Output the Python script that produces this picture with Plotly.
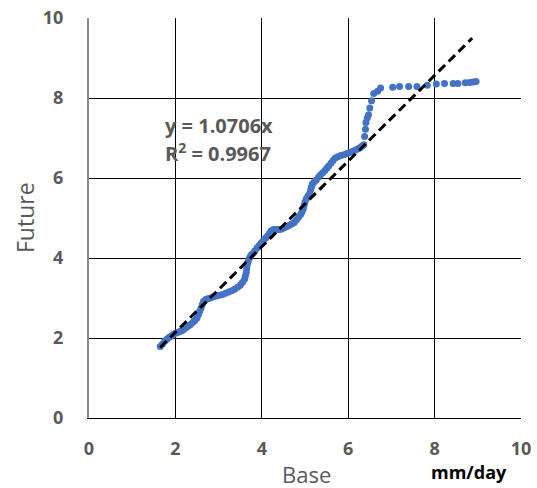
import plotly.graph_objects as go

# Daily values, Base vs Future (mm/day)
base = [1.65, 1.70, 1.75, 1.80, 1.85, 1.90, 1.95, 2.00, 2.05, 2.10, 2.15, 2.20, 2.25, 2.30,
        2.35, 2.40, 2.45, 2.50, 2.53, 2.56, 2.59, 2.62, 2.65, 2.70, 2.75, 2.81, 2.88, 2.95,
        3.02, 3.09, 3.16, 3.23, 3.30, 3.37, 3.44, 3.50, 3.55, 3.60, 3.62, 3.64, 3.65, 3.66,
        3.68, 3.70, 3.73, 3.76, 3.80, 3.84, 3.89, 3.94, 3.99, 4.04, 4.09, 4.14, 4.18, 4.22,
        4.27, 4.33, 4.39, 4.45, 4.51, 4.57, 4.63, 4.69, 4.75, 4.80, 4.85, 4.90, 4.93, 4.96,
        4.98, 5.00, 5.03, 5.07, 5.11, 5.13, 5.15, 5.17, 5.21, 5.26, 5.31, 5.36, 5.41, 5.46,
        5.51, 5.55, 5.60, 5.65, 5.70, 5.76, 5.83, 5.90, 5.97, 6.04, 6.11, 6.17, 6.23, 6.28,
        6.32, 6.36, 6.38, 6.40, 6.41, 6.44, 6.47, 6.50, 6.54, 6.59, 6.68, 6.75, 7.03, 7.19,
        7.40, 7.59, 7.83, 8.04, 8.23, 8.43, 8.54, 8.71, 8.81, 8.89, 8.96]
future = [1.79, 1.85, 1.92, 1.97, 2.01, 2.05, 2.09, 2.12, 2.14, 2.16, 2.18, 2.22, 2.26, 2.30,
          2.34, 2.39, 2.44, 2.50, 2.58, 2.66, 2.74, 2.83, 2.91, 2.96, 2.98, 3.00, 3.03, 3.05,
          3.07, 3.09, 3.12, 3.15, 3.18, 3.22, 3.27, 3.32, 3.39, 3.47, 3.55, 3.64, 3.73, 3.82,
          3.90, 3.97, 4.03, 4.08, 4.12, 4.18, 4.25, 4.31, 4.38, 4.44, 4.50, 4.56, 4.62, 4.68,
          4.71, 4.71, 4.71, 4.72, 4.75, 4.78, 4.81, 4.85, 4.89, 4.95, 5.02, 5.09, 5.15, 5.23,
          5.32, 5.40, 5.48, 5.55, 5.62, 5.70, 5.78, 5.85, 5.90, 5.95, 6.02, 6.08, 6.13, 6.19,
          6.25, 6.30, 6.37, 6.44, 6.50, 6.53, 6.56, 6.58, 6.61, 6.64, 6.67, 6.70, 6.73, 6.76,
          6.80, 6.83, 7.04, 7.22, 7.39, 7.50, 7.58, 7.75, 7.93, 8.11, 8.17, 8.25, 8.27, 8.29,
          8.29, 8.29, 8.32, 8.35, 8.36, 8.36, 8.36, 8.38, 8.39, 8.40, 8.41]

# Linear trend through the origin
slope = 1.0706
r_squared = 0.9967
trend_x = [1.65, 8.87]
trend_y = [slope * v for v in trend_x]

tick_vals = [0, 2, 4, 6, 8, 10]
tick_text = ["0", "2", "4", "6", "8", "10"]

GRAY = "#595959"
FONT = "Open Sans"

# Page and plot-area geometry in pixels
W, H = 537, 488
L, R, T, B = 89, 16, 18, 70
pw, ph = W - L - R, H - T - B


def paper_x(px):
    return (px - L) / pw


def paper_y(py):
    return (H - B - py) / ph


fig = go.Figure()
fig.add_trace(go.Scatter(
    x=base, y=future, mode="markers",
    marker=dict(color="#4472C4", size=7, line=dict(width=0)),
    showlegend=False, hoverinfo="skip"))
fig.add_trace(go.Scatter(
    x=trend_x, y=trend_y, mode="lines",
    line=dict(color="black", width=3, dash="9px,5px"),
    showlegend=False, hoverinfo="skip"))

axis_common = dict(
    range=[0, 10], tickvals=tick_vals, ticktext=tick_text,
    showgrid=True, gridcolor="black", gridwidth=1, zeroline=False,
    ticks="", tickfont=dict(family=FONT, size=18, color=GRAY, weight="bold"),
    fixedrange=True, automargin=False,
)

fig.update_layout(
    width=W, height=H,
    margin=dict(l=L, r=R, t=T, b=B),
    paper_bgcolor="white", plot_bgcolor="white",
    xaxis=dict(**axis_common, showline=True, linecolor="black", linewidth=1,
               ticklabelstandoff=14),
    yaxis=dict(**axis_common, showline=True, linecolor="#8c8c8c", linewidth=2,
               ticklabelstandoff=20),
    annotations=[
        dict(text=f"y = {slope}x", x=1.72, y=7.31, xref="x", yref="y",
             xanchor="left", yanchor="middle", showarrow=False,
             font=dict(family=FONT, size=20, color=GRAY, weight="bold")),
        dict(text=f"R<sup>2</sup> = {r_squared}", x=1.72, y=6.63, xref="x", yref="y",
             xanchor="left", yanchor="middle", showarrow=False,
             font=dict(family=FONT, size=20, color=GRAY, weight="bold")),
        dict(text="Base", x=paper_x(306), y=paper_y(474), xref="paper", yref="paper",
             xanchor="center", yanchor="middle", showarrow=False,
             font=dict(family=FONT, size=22, color=GRAY)),
        dict(text="Future", x=paper_x(25), y=paper_y(218), xref="paper", yref="paper",
             xanchor="center", yanchor="middle", textangle=-90, showarrow=False,
             font=dict(family=FONT, size=23, color=GRAY)),
        dict(text="mm/day", x=paper_x(469), y=paper_y(472), xref="paper", yref="paper",
             xanchor="center", yanchor="middle", showarrow=False,
             font=dict(family=FONT, size=18, color="black", weight="bold")),
    ],
)

fig.write_html("out.html")
